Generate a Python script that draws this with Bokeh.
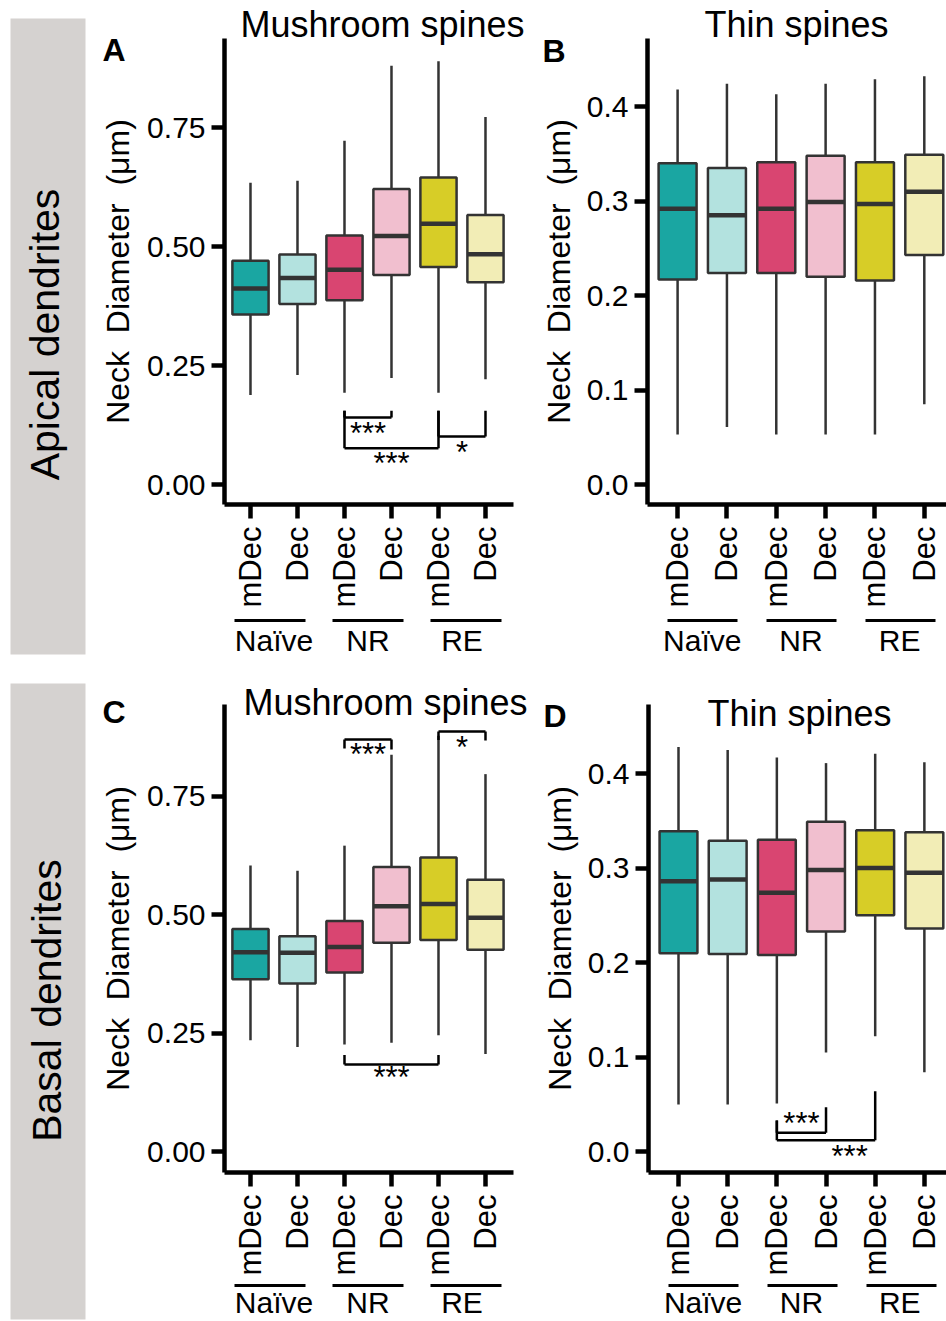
import math
from bokeh.plotting import figure
from bokeh.layouts import row, column
from bokeh.models import (Range1d, FixedTicker, PrintfTickFormatter, Label, LinearAxis, Title)
from bokeh.core.properties import value
from bokeh.embed import file_html
from bokeh.resources import INLINE

FONT = "Liberation Sans"

# ---------------- data ----------------
positions = [1, 2, 3, 4, 5, 6]
tick_labels = ["mDec", "Dec", "mDec", "Dec", "mDec", "Dec"]
groups = ["Naïve", "NR", "RE"]
group_centers = [1.5, 3.5, 5.5]
fill_colors = ["#1aa6a2", "#b3e2df", "#d94571", "#f1bfcf", "#d7cd27", "#f2edb6"]

# Panel A - apical, mushroom
A_whisker_low = [0.188, 0.230, 0.193, 0.224, 0.193, 0.221]
A_q1 = [0.357, 0.379, 0.387, 0.440, 0.457, 0.425]
A_median = [0.412, 0.434, 0.451, 0.522, 0.548, 0.484]
A_q3 = [0.470, 0.483, 0.523, 0.621, 0.645, 0.566]
A_whisker_high = [0.634, 0.638, 0.722, 0.880, 0.889, 0.772]

# Panel B - apical, thin
B_whisker_low = [0.053, 0.061, 0.053, 0.053, 0.053, 0.085]
B_q1 = [0.217, 0.224, 0.224, 0.220, 0.216, 0.243]
B_median = [0.292, 0.285, 0.292, 0.299, 0.297, 0.310]
B_q3 = [0.340, 0.335, 0.341, 0.348, 0.341, 0.349]
B_whisker_high = [0.418, 0.424, 0.413, 0.424, 0.429, 0.432]

# Panel C - basal, mushroom
C_whisker_low = [0.235, 0.221, 0.226, 0.230, 0.246, 0.206]
C_q1 = [0.364, 0.355, 0.378, 0.441, 0.447, 0.426]
C_median = [0.421, 0.420, 0.432, 0.518, 0.523, 0.494]
C_q3 = [0.470, 0.455, 0.487, 0.601, 0.621, 0.574]
C_whisker_high = [0.604, 0.593, 0.646, 0.838, 0.878, 0.797]

# Panel D - basal, thin
D_whisker_low = [0.050, 0.050, 0.051, 0.105, 0.122, 0.084]
D_q1 = [0.210, 0.209, 0.208, 0.233, 0.250, 0.236]
D_median = [0.286, 0.288, 0.274, 0.298, 0.300, 0.295]
D_q3 = [0.339, 0.329, 0.330, 0.349, 0.340, 0.338]
D_whisker_high = [0.428, 0.425, 0.417, 0.411, 0.421, 0.412]

# significance brackets: from, to, tip heights, bar height, label, label x, label y
A_sig_from = [3, 3, 5]
A_sig_to = [4, 5, 6]
A_sig_tip_from = [0.155, 0.155, 0.155]
A_sig_tip_to = [0.155, 0.155, 0.155]
A_sig_bar = [0.141, 0.076, 0.101]
A_sig_text = ["***", "***", "*"]
A_sig_text_x = [3.5, 4.0, 5.5]
A_sig_text_y = [0.113, 0.050, 0.074]

C_sig_from = [3, 5, 3]
C_sig_to = [4, 6, 5]
C_sig_tip_from = [0.851, 0.869, 0.204]
C_sig_tip_to = [0.849, 0.868, 0.204]
C_sig_bar = [0.870, 0.887, 0.184]
C_sig_text = ["***", "*", "***"]
C_sig_text_x = [3.5, 5.5, 4.0]
C_sig_text_y = [0.845, 0.860, 0.162]

D_sig_from = [3, 3]
D_sig_to = [4, 5]
D_sig_tip_from = [0.033, 0.033]
D_sig_tip_to = [0.047, 0.064]
D_sig_bar = [0.020, 0.012]
D_sig_text = ["***", "***"]
D_sig_text_x = [3.5, 4.48]
D_sig_text_y = [0.033, -0.002]

Y_LABEL = "Neck\u00a0\u00a0Diameter\u00a0\u00a0(μm)"
BOX_W = 0.77
EDGE = "#333333"


def make_panel(origin, size, frame, xr, yr, yticks, yfmt, stats, sig, title, title_cfg,
               letter, letter_cfg, ylab_standoff, spacer, under_cfg, group_standoff):
    ox, oy = origin
    w, h = size
    fl, fr, ft, fb = frame
    p = figure(width=w, height=h, x_range=Range1d(*xr), y_range=Range1d(*yr),
               output_backend="svg", toolbar_location=None,
               min_border_left=fl - ox, min_border_right=ox + w - fr,
               min_border_top=ft - oy, min_border_bottom=oy + h - fb)
    p.outline_line_color = None
    p.xgrid.grid_line_color = None
    p.ygrid.grid_line_color = None
    p.background_fill_color = "white"
    p.border_fill_color = "white"

    ppu_y = (fb - ft) / (yr[1] - yr[0])

    def dx(gx):
        return xr[0] + (gx - fl) / (fr - fl) * (xr[1] - xr[0])

    def dy(gy):
        return yr[1] - (gy - ft) / (fb - ft) * (yr[1] - yr[0])

    low, q1, med, q3, high = stats
    p.segment(x0=positions, y0=q3, x1=positions, y1=high, line_color=EDGE, line_width=2.5)
    p.segment(x0=positions, y0=low, x1=positions, y1=q1, line_color=EDGE, line_width=2.5)
    p.vbar(x=positions, width=BOX_W, bottom=q1, top=q3, fill_color=fill_colors,
           line_color=EDGE, line_width=2.5)
    p.segment(x0=[x - BOX_W / 2 for x in positions], y0=med,
              x1=[x + BOX_W / 2 for x in positions], y1=med,
              line_color=EDGE, line_width=4.5)

    if sig is not None:
        s_from, s_to, tip_f, tip_t, bar, txt, tx, ty = sig
        x0s, y0s, x1s, y1s = [], [], [], []
        for a, b, t1, t2, yb in zip(s_from, s_to, tip_f, tip_t, bar):
            x0s += [a, a, b]
            y0s += [t1, yb, yb]
            x1s += [a, b, b]
            y1s += [yb, yb, t2]
        p.segment(x0=x0s, y0=y0s, x1=x1s, y1=y1s, line_color="black", line_width=2.5)
        p.text(x=tx, y=[v - 3.0 / ppu_y for v in ty], text=txt,
               text_align="center", text_baseline="alphabetic",
               text_font=value(FONT), text_font_size="31px", text_color="black")

    # main axes
    for ax in p.xaxis:
        ax.ticker = FixedTicker(ticks=positions)
        ax.major_label_overrides = {pos: lab for pos, lab in zip(positions, tick_labels)}
        ax.major_label_orientation = math.pi / 2
        ax.major_tick_out = 14
        ax.major_tick_in = 0
        ax.major_label_standoff = 8
        ax.major_label_text_font_size = "31px"
    for ax in p.yaxis:
        ax.ticker = FixedTicker(ticks=yticks)
        ax.formatter = PrintfTickFormatter(format=yfmt)
        ax.major_tick_out = 13
        ax.major_tick_in = 0
        ax.major_label_standoff = 6
        ax.major_label_text_font_size = "30px"
        ax.axis_label = Y_LABEL
        ax.axis_label_standoff = ylab_standoff
        ax.axis_label_text_font = FONT
        ax.axis_label_text_font_size = "32px"
        ax.axis_label_text_font_style = "normal"
        ax.axis_label_text_color = "black"
    for ax in p.axis:
        ax.axis_line_color = "black"
        ax.axis_line_width = 4.5
        ax.major_tick_line_color = "black"
        ax.major_tick_line_width = 4.5
        ax.minor_tick_line_color = None
        ax.major_label_text_font = FONT
        ax.major_label_text_color = "black"

    # invisible spacer between tick labels and the group underline
    sp = LinearAxis(ticker=FixedTicker(ticks=[3.5]), formatter=PrintfTickFormatter(format=" "),
                    major_tick_out=spacer, major_tick_in=0, major_label_standoff=0,
                    axis_line_color=None, major_tick_line_color=None,
                    minor_tick_line_color=None, major_label_text_font_size="1px")
    p.add_layout(sp, "below")

    # group axis: dashed line gives the three underlines, labels give group names
    u_start, u_end, u_dash = under_cfg
    gax = LinearAxis(ticker=FixedTicker(ticks=group_centers),
                     major_label_overrides={c: g for c, g in zip(group_centers, groups)},
                     bounds=(dx(u_start), dx(u_end)),
                     axis_line_color="black", axis_line_width=3, axis_line_dash=u_dash,
                     major_tick_line_color=None, major_tick_out=0, major_tick_in=0,
                     minor_tick_line_color=None, major_label_standoff=group_standoff,
                     major_label_text_font=FONT, major_label_text_font_size="30px",
                     major_label_text_color="black")
    p.add_layout(gax, "below")

    # panel letter as an extra left axis
    l_cy, l_standoff = letter_cfg
    lax = LinearAxis(ticker=FixedTicker(ticks=[round(dy(l_cy), 5)]),
                     formatter=PrintfTickFormatter(format=letter),
                     axis_line_color=None, major_tick_line_color=None,
                     minor_tick_line_color=None, major_tick_out=0, major_tick_in=0,
                     major_label_standoff=l_standoff, major_label_text_font=FONT,
                     major_label_text_font_size="32px", major_label_text_font_style="bold",
                     major_label_text_color="black")
    p.add_layout(lax, "left")

    # title
    t_left, t_standoff = title_cfg
    p.add_layout(Title(text=title, align="left", offset=t_left - fl, standoff=t_standoff,
                       text_font=FONT, text_font_size="36px", text_font_style="normal",
                       text_color="black"), "above")
    return p


def make_strip(origin, size, frame, text, text_px):
    ox, oy = origin
    w, h = size
    fl, fr, ft, fb = frame
    s = figure(width=w, height=h, x_range=Range1d(0, 1), y_range=Range1d(0, 1),
               x_axis_location=None, y_axis_location=None,
               output_backend="svg", toolbar_location=None,
               min_border_left=fl - ox, min_border_right=ox + w - fr,
               min_border_top=ft - oy, min_border_bottom=oy + h - fb)
    s.outline_line_color = None
    s.xgrid.grid_line_color = None
    s.ygrid.grid_line_color = None
    s.background_fill_color = "#d5d2d0"
    s.border_fill_color = "white"
    s.add_layout(Label(x=(text_px[0] - fl) / (fr - fl), y=1 - (text_px[1] - ft) / (fb - ft),
                       text=text, angle=math.pi / 2, text_align="center",
                       text_baseline="alphabetic", text_font=FONT,
                       text_font_size="41px", text_color="black"))
    return s


R_AC = (0.447, 6.596)
R_BD = (0.39, 6.45)

sA = make_strip((0, 0), (88, 660), (10, 85, 18, 654), "Apical dendrites", (44, 334))
sC = make_strip((0, 660), (88, 661), (10, 85, 683, 1319), "Basal dendrites", (46, 1000))

pA = make_panel((88, 0), (442, 660), (224, 513, 38, 504), R_AC, (-0.042, 0.937),
                [0, 0.25, 0.5, 0.75], "%.2f",
                (A_whisker_low, A_q1, A_median, A_q3, A_whisker_high),
                (A_sig_from, A_sig_to, A_sig_tip_from, A_sig_tip_to, A_sig_bar,
                 A_sig_text, A_sig_text_x, A_sig_text_y),
                "Mushroom spines", (240, -12), "A", (50, -28), 8, 6,
                (234, 501, "71 27"), 3)
pB = make_panel((530, 0), (416, 660), (647, 946, 38, 504), R_BD, (-0.021, 0.472),
                [0, 0.1, 0.2, 0.3, 0.4], "%.1f",
                (B_whisker_low, B_q1, B_median, B_q3, B_whisker_high), None,
                "Thin spines", (704, -12), "B", (51, -28), 7, 6,
                (667, 936, "70 29"), 3)
pC = make_panel((88, 660), (442, 661), (224, 513, 704, 1172), R_AC, (-0.044, 0.944),
                [0, 0.25, 0.5, 0.75], "%.2f",
                (C_whisker_low, C_q1, C_median, C_q3, C_whisker_high),
                (C_sig_from, C_sig_to, C_sig_tip_from, C_sig_tip_to, C_sig_bar,
                 C_sig_text, C_sig_text_x, C_sig_text_y),
                "Mushroom spines", (243, -36), "C", (711, -28), 8, 3,
                (234, 501, "71 27"), 0)
pD = make_panel((530, 660), (416, 661), (648, 946, 704, 1172), R_BD, (-0.022, 0.473),
                [0, 0.1, 0.2, 0.3, 0.4], "%.1f",
                (D_whisker_low, D_q1, D_median, D_q3, D_whisker_high),
                (D_sig_from, D_sig_to, D_sig_tip_from, D_sig_tip_to, D_sig_bar,
                 D_sig_text, D_sig_text_x, D_sig_text_y),
                "Thin spines", (707, -59), "D", (716, -28), 7, 3,
                (668, 936, "70 29"), 0)

layout = row(column(sA, sC), column(row(pA, pB), row(pC, pD)))
open("out.html", "w").write(file_html(layout, INLINE))
